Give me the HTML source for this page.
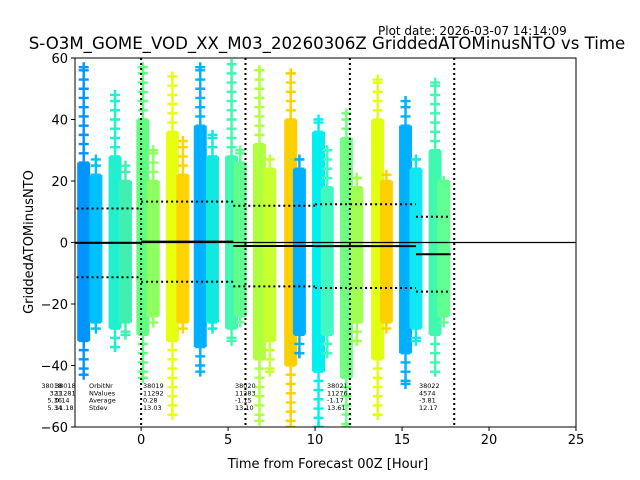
<!DOCTYPE html>
<html><head><meta charset="utf-8"><style>
body{margin:0;background:#fff}
svg{display:block;font-family:"DejaVu Sans","Liberation Sans",sans-serif}
</style></head><body>
<svg id="chart" width="640" height="480" xmlns="http://www.w3.org/2000/svg">
<text x="378" y="35" font-size="12">Plot date: 2026-03-07 14:14:09</text>
<text x="327" y="49" font-size="16.6" text-anchor="middle">S-O3M_GOME_VOD_XX_M03_20260306Z GriddedATOMinusNTO vs Time</text>
<g id="plot"></g>
<text x="328" y="468" font-size="13" text-anchor="middle">Time from Forecast 00Z [Hour]</text>
<text transform="translate(33,242) rotate(-90)" font-size="13" text-anchor="middle">GriddedATOMinusNTO</text>
</svg>
<script>
const bandHours=[-3.3,-2.6,-1.5,-0.9,0.1,0.7,1.8,2.4,3.4,4.1,5.2,5.7,6.8,7.4,8.6,9.1,10.2,10.7,11.8,12.4,13.6,14.1,15.2,15.8,16.9,17.4];
const bandColors=["#0094ff","#00c0ff","#20f0d0","#40f0b0","#60ff80","#90ff60","#e8ff10","#ffd400","#00b0ff","#10e8e0","#40f8b0","#60ff90","#b0ff40","#c8ff30","#ffd000","#00b0ff","#00f0f0","#40f8c0","#70ff80","#a0ff50","#e0ff10","#ffd000","#00b0ff","#10e8f0","#40f8b0","#60ff90"];
const coreLow=[-32,-26,-28,-26,-30,-24,-32,-26,-34,-26,-28,-24,-38,-32,-40,-30,-42,-30,-44,-26,-38,-26,-36,-28,-30,-24];
const coreHigh=[26,22,28,20,40,20,36,22,38,28,28,26,32,24,40,24,36,18,34,18,40,20,38,24,30,20];
const extLow=[-43,-28,-34,-30,-44,-26,-56,-28,-42,-28,-32,-26,-58,-42,-60,-36,-60,-36,-60,-32,-56,-28,-46,-32,-42,-26];
const extHigh=[57,27,48,25,57,30,54,33,57,35,58,30,56,27,55,27,40,30,42,21,53,22,46,27,52,20];
const segStart=[-4,0,5.3,10,15.8];
const segEnd=[0,5.3,10,15.8,17.8];
const segMean=[-0.14,0.28,-1.15,-1.17,-3.81];
const segStd=[11.18,13.03,13.10,13.61,12.17];
const vLines=[0,6,12,18];
const xTicks=[0,5,10,15,20,25];
const yTicks=[-60,-40,-20,0,20,40,60];
const statCols=[[143,"38019","11292","0.28","13.03"],[235,"38020","11283","-1.15","13.10"],[327,"38021","11276","-1.17","13.61"],[419,"38022","4574","-3.81","12.17"]];

const NS="http://www.w3.org/2000/svg";
const L=75,R=576,T=58,B=427,XMIN=-3.8,XMAX=25,YMIN=-60,YMAX=60;
const sx=v=>L+(v-XMIN)/(XMAX-XMIN)*(R-L);
const sy=v=>B-(v-YMIN)/(YMAX-YMIN)*(B-T);
const g=document.getElementById('plot');
function mk(tag,a,p){const e=document.createElementNS(NS,tag);for(const k in a)e.setAttribute(k,a[k]);(p||g).appendChild(e);return e;}
const clip=mk('clipPath',{id:'c'});mk('rect',{x:L,y:T,width:R-L,height:B-T},clip);
const data=mk('g',{'clip-path':'url(#c)'});
bandHours.forEach((h,i)=>{
  const cx=sx(h),c=bandColors[i];
  const r=mk('rect',{x:cx-6.5,y:sy(coreHigh[i]),width:13,height:sy(coreLow[i])-sy(coreHigh[i]),fill:c},data);
  
  
  const pts=[];
  for(let v=coreHigh[i];v<=extHigh[i];v+=3)pts.push(v);
  pts.push(extHigh[i]);
  for(let v=coreLow[i];v>=extLow[i];v-=3)pts.push(v);
  pts.push(extLow[i]);
  pts.forEach(v=>{
    const p=mk('path',{d:`M${cx-5},${sy(v)}h10M${cx},${sy(v)-5}v10`,stroke:c,'stroke-width':2.4},data);
    
    
  });
});
mk('line',{x1:L,x2:R,y1:sy(0),y2:sy(0),stroke:'#000','stroke-width':1.3},data);
vLines.forEach(v=>{const l=mk('line',{x1:sx(v),x2:sx(v),y1:T,y2:B,stroke:'#000','stroke-width':2,'stroke-dasharray':'2,3'},data);
  });
segStart.forEach((s,i)=>{
  const x1=sx(s),x2=sx(segEnd[i]);
  const m=mk('line',{x1,x2,y1:sy(segMean[i]),y2:sy(segMean[i]),stroke:'#000','stroke-width':2},data);
  
  [segMean[i]+segStd[i],segMean[i]-segStd[i]].forEach(v=>{
    const d=mk('line',{x1,x2,y1:sy(v),y2:sy(v),stroke:'#000','stroke-width':2,'stroke-dasharray':'2,3'},data);
    });
});
mk('rect',{x:L,y:T,width:R-L,height:B-T,fill:'none',stroke:'#000','stroke-width':1});
xTicks.forEach(v=>{mk('line',{x1:sx(v),x2:sx(v),y1:B,y2:B+4,stroke:'#000'});
  const t=mk('text',{x:sx(v),y:B+17,'font-size':13,'text-anchor':'middle'});t.textContent=v;
  });
yTicks.forEach(v=>{mk('line',{x1:L-4,x2:L,y1:sy(v),y2:sy(v),stroke:'#000'});
  const t=mk('text',{x:L-7,y:sy(v)+5,'font-size':13,'text-anchor':'end'});t.textContent=v<0?'\u2212'+(-v):v;
  });
function stat(x,lines,anchor){lines.forEach((s,j)=>{const t=mk('text',{x,y:388+j*7.3,'font-size':6.5,'text-anchor':anchor||'start'});t.textContent=s;
  });}
stat(62,["38018","321","5.36","5.34"],'end');
stat(55,["38018","11281","0.14","11.18"]);
stat(89,["OrbitNr","NValues","Average","Stdev"]);
statCols.forEach(c=>stat(c[0],c.slice(1)));
</script>
</body></html>
